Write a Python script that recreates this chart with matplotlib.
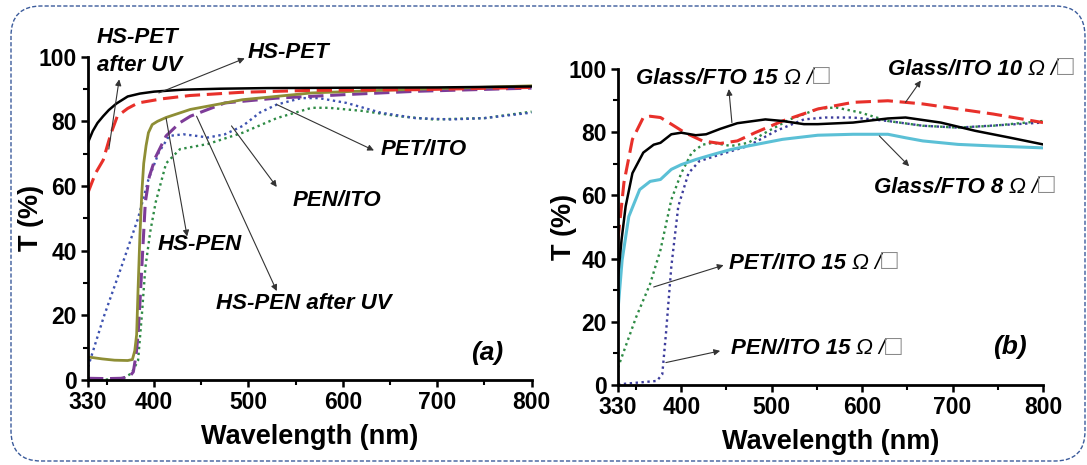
import matplotlib.pyplot as plt
from matplotlib.patches import FancyBboxPatch

plt.rcParams['font.family'] = ['Liberation Sans', 'DejaVu Sans']

# ---- (a) 基底膜透过率 ----
wl_hspet = [330, 335, 340, 346, 352, 360, 372, 385, 400, 430, 470, 520, 600, 700, 800]
t_hspet = [73.5, 77, 79.5, 81.6, 83.5, 85.5, 87.7, 88.6, 89.2, 89.8, 90.1, 90.3, 90.4, 90.5, 90.8]

wl_hspet_uv = [330, 338, 346, 354, 361, 372, 383, 409, 438, 493, 567, 677, 800]
t_hspet_uv = [58, 64, 68, 76, 81.6, 84, 85.7, 87, 88, 89, 89.6, 89.8, 90.5]

wl_hspen = [330, 345, 358, 372, 377, 379.5, 381.5, 383, 385, 387, 389, 391.5, 394, 398,
            403.5, 412.7, 438.5, 493.6, 567, 640, 720, 800]
t_hspen = [7.1, 6.5, 6.1, 6.0, 6.3, 9, 14, 28, 45, 58, 67, 72.5, 76.5, 79,
           80, 81.2, 83.7, 86.7, 88.8, 89.6, 90.3, 91]

wl_hspen_uv = [330, 350, 365, 374, 378, 381, 383, 385, 387, 390.7, 395, 401.7, 412.7,
               427.4, 438.5, 475, 530, 604, 677, 800]
t_hspen_uv = [0.5, 0.4, 0.5, 1, 2.5, 8, 14, 24, 35, 55, 63, 69, 75.5,
              79.6, 81.6, 85.7, 87.2, 88.3, 89.3, 90.3]

wl_pet_ito = [330, 346.5, 365, 383, 394, 405, 416, 431, 445, 457, 475, 494, 512, 530,
              556, 574.5, 604, 640, 677, 714, 750, 800]
t_pet_ito = [4, 19.4, 34.7, 50, 62, 70.4, 75.5, 76, 75.5, 75, 76, 78.6, 82.7, 85.2,
             87.2, 87.2, 85.7, 82.7, 81, 80.6, 81, 82.7]

wl_pen_ito = [330, 365, 376, 383, 387, 390.7, 396, 401.7, 412.7, 427.4, 457, 494, 530,
              567, 585, 622, 659, 696, 750, 800]
t_pen_ito = [0, 0.2, 2, 6, 20, 34.7, 46, 55, 67, 71.4, 73, 76.5, 81,
             84.2, 84.2, 83.2, 81.6, 80.6, 81, 83]

# ---- (b) 导电基底透过率 ----
wl_fto15 = [330, 334, 338.5, 346, 358, 369.5, 377, 389, 400, 416, 427.5, 443, 462, 493,
            512, 535.6, 551, 590, 628.5, 648, 687, 725, 764, 800]
t_fto15 = [34, 46, 56.5, 67, 73.5, 76, 76.6, 79.3, 79.8, 79, 79.3, 81, 82.8, 84,
           83.5, 82.5, 82.5, 83, 84.3, 84.6, 83, 80.4, 78.2, 76.1]

wl_ito10 = [330, 336.6, 346, 358, 365.6, 377, 389, 404, 423.5, 443, 462, 481.6, 512,
            551, 590, 628.5, 667, 706, 745, 800]
t_ito10 = [45.9, 64, 77.7, 84.6, 85, 84.6, 82.5, 79.8, 77.2, 76.4, 77.2, 79.8, 83.5,
           87.3, 89.4, 89.9, 88.9, 87.3, 85.7, 83]

wl_fto8 = [330, 334.6, 342, 354, 365.6, 377, 389, 400, 416, 435, 455, 474, 512, 551,
           590, 628.5, 648, 667, 706, 745, 800]
t_fto8 = [23.6, 39.5, 53.3, 61.8, 64.4, 65, 68.2, 69.7, 71.3, 72.9, 74.5, 75.6, 77.7, 79,
          79.3, 79.3, 78.2, 77.2, 76.1, 75.6, 75]

wl_pet_ito15 = [330, 350, 365.6, 377, 389, 400, 411.6, 423.5, 435, 455, 474, 493, 520,
                551, 570.6, 597.7, 628.5, 667, 706, 745, 800]
t_pet_ito15 = [5.5, 21.4, 32, 42.7, 58.6, 67, 73.5, 76, 76.6, 75.6, 76.6, 79.8, 84,
               87.3, 87.8, 86.2, 83.5, 82, 81.4, 82, 83.5]

wl_pen_ito15 = [330, 373, 379, 383, 389, 396.7, 408, 420, 443, 474, 505, 535.6, 559,
                590, 628.5, 667, 706, 800]
t_pen_ito15 = [0.2, 1.3, 3.4, 16, 37.4, 56.5, 67, 70.8, 72.9, 75.6, 80.4, 84, 84.6,
               84.6, 83.5, 82, 81.4, 83]

xticks = [330, 400, 500, 600, 700, 800]
yticks = [0, 20, 40, 60, 80, 100]

DASH = (0, (5, 2.2))
DOT = (0, (1, 1.5))
LBL = dict(fontsize=16, fontweight='bold', style='italic')
ARW = dict(arrowstyle='-|>', color='#333333', lw=0.8, mutation_scale=9, shrinkA=0, shrinkB=0)


def style_axes(ax, ypad):
    ax.set_xlim(330, 800)
    ax.set_ylim(0, 100)
    ax.set_xticks(xticks)
    ax.set_xticks([350, 450, 550, 650, 750], minor=True)
    ax.set_yticks(yticks)
    ax.set_yticks([10, 30, 50, 70, 90], minor=True)
    for s in ['top', 'right']:
        ax.spines[s].set_visible(False)
    for s in ['left', 'bottom']:
        ax.spines[s].set_linewidth(2)
    ax.tick_params(which='major', direction='out', length=5, width=1.8, labelsize=16.5, pad=3)
    ax.tick_params(which='minor', direction='out', length=3.5, width=1.5)
    for lab in ax.get_xticklabels() + ax.get_yticklabels():
        lab.set_fontweight('bold')
    ax.set_xlabel('Wavelength (nm)', fontsize=19.5, fontweight='bold', labelpad=7)
    ax.set_ylabel('T (%)', fontsize=19.5, fontweight='bold', labelpad=ypad)


def arrow(ax, tail, head):
    ax.annotate('', xy=head, xytext=tail, arrowprops=ARW, annotation_clip=False)


def ohm_label(ax, x, y, s):
    # 方块电阻单位: Ω/□
    t = ax.text(x, y, s + ' ', va='center', ha='left', clip_on=False, **LBL)
    t2 = ax.annotate('\u03a9 /', xy=(1, 0), xycoords=t, va='bottom', ha='left',
                     fontsize=16, style='italic', annotation_clip=False)
    ax.annotate('\u25a1', xy=(1, -0.05), xycoords=t2, va='bottom', ha='left',
                fontsize=20, color='#8a8a8a', annotation_clip=False)


fig = plt.figure(figsize=(10.87, 4.65), dpi=100)
ax1 = fig.add_axes([0.081, 0.183, 0.408, 0.695])
ax2 = fig.add_axes([0.5685, 0.172, 0.391, 0.68])

# (a)
ax1.plot(wl_pen_ito, t_pen_ito, color='#2e8b45', lw=1.7, linestyle=DOT)
ax1.plot(wl_pet_ito, t_pet_ito, color='#3d52b0', lw=1.7, linestyle=DOT)
ax1.plot(wl_hspen_uv, t_hspen_uv, color='#7d3c98', lw=2.2, linestyle=DASH)
ax1.plot(wl_hspen, t_hspen, color='#8e8e35', lw=2)
ax1.plot(wl_hspet_uv, t_hspet_uv, color='#e8302a', lw=2.2, linestyle=DASH)
ax1.plot(wl_hspet, t_hspet, color='black', lw=1.8)
style_axes(ax1, -4)

ax1.text(339, 106, 'HS-PET', va='center', clip_on=False, **LBL)
ax1.text(339, 97.4, 'after UV', va='center', clip_on=False, **LBL)
ax1.text(499, 101.2, 'HS-PET', va='center', clip_on=False, **LBL)
ax1.text(640, 71.4, 'PET/ITO', va='center', **LBL)
ax1.text(547, 55.6, 'PEN/ITO', va='center', **LBL)
ax1.text(403.5, 41.8, 'HS-PEN', va='center', **LBL)
ax1.text(466, 23.5, 'HS-PEN after UV', va='center', **LBL)
ax1.text(736, 8.2, '(a)', va='center', fontsize=19, fontweight='bold', style='italic')
arrow(ax1, (352, 71.4), (363, 93))
arrow(ax1, (405, 88.8), (496, 99.5))
arrow(ax1, (530, 85.2), (633, 71))
arrow(ax1, (482, 78.6), (530, 59.7))
arrow(ax1, (412.7, 81), (435, 44.4))
arrow(ax1, (445, 81.6), (530, 27.5))

# (b)
ax2.plot(wl_pen_ito15, t_pen_ito15, color='#3c3c9c', lw=1.7, linestyle=DOT)
ax2.plot(wl_pet_ito15, t_pet_ito15, color='#2e8b45', lw=1.7, linestyle=DOT)
ax2.plot(wl_fto8, t_fto8, color='#5bc0d6', lw=2.2)
ax2.plot(wl_ito10, t_ito10, color='#e8302a', lw=2.2, linestyle=DASH)
ax2.plot(wl_fto15, t_fto15, color='black', lw=1.8)
style_axes(ax2, -6)

ohm_label(ax2, 350, 96.8, 'Glass/FTO 15')
ohm_label(ax2, 628.6, 99.8, 'Glass/ITO 10')
ohm_label(ax2, 613, 62.6, 'Glass/FTO 8')
ohm_label(ax2, 452.6, 38.4, 'PET/ITO 15')
ohm_label(ax2, 454.6, 11.4, 'PEN/ITO 15')
ax2.text(744.7, 11.9, '(b)', va='center', fontsize=19, fontweight='bold', style='italic')
arrow(ax2, (456, 83), (452.6, 93.6))
arrow(ax2, (648, 89.4), (665, 96.3))
arrow(ax2, (619, 78.8), (652, 69.2))
arrow(ax2, (369.5, 31), (446.8, 37.9))
arrow(ax2, (383, 7.1), (443, 10.8))

# 外框: 圆角虚线
frame = FancyBboxPatch((0.11, 0.04), 10.74, 4.55, boxstyle='round,pad=0,rounding_size=0.3',
                       transform=fig.dpi_scale_trans, fill=False, edgecolor='#3b5b9b',
                       lw=1.0, linestyle=(0, (3, 1.5)))
fig.patches.append(frame)

fig.savefig('out.png', dpi=100)
